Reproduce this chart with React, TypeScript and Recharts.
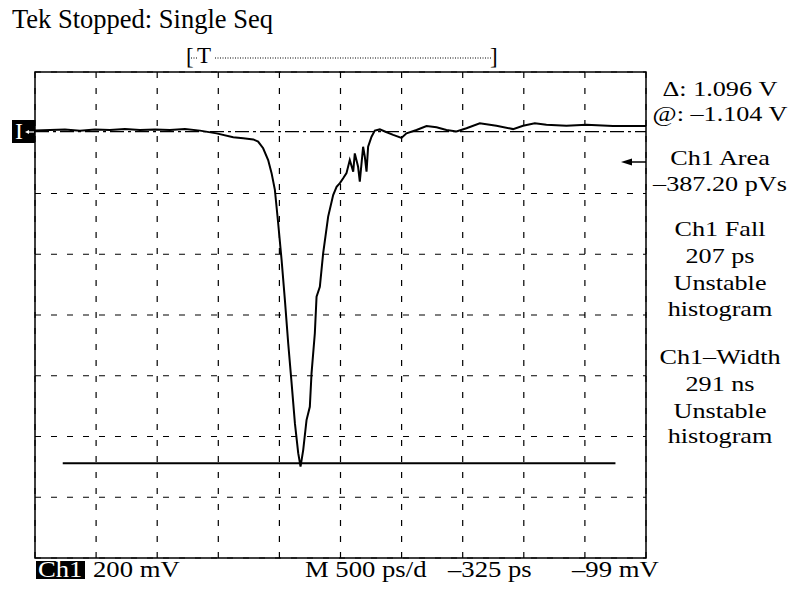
import React from 'react';
import { LineChart, Line, XAxis, YAxis, CartesianGrid, ReferenceLine, ReferenceArea } from 'recharts';

// time in ps (500 ps/div, 10 div), Ch1 in volts (200 mV/div)
const timePs = [
  0, 123, 245, 368, 491, 613, 736, 859, 982, 1104, 1227, 1350, 1486, 1622, 1704, 1786, 1826, 1867, 1908,
  1936, 1963, 1990, 2018, 2045, 2072, 2100, 2127, 2154, 2173, 2195, 2222, 2249, 2263, 2290, 2304, 2331,
  2358, 2399, 2440, 2468, 2495, 2522, 2549, 2576, 2604, 2617, 2644, 2658, 2685, 2699, 2713, 2726, 2754,
  2781, 2822, 2863, 2931, 2999, 3040, 3122, 3204, 3286, 3367, 3449, 3531, 3640, 3776, 3912, 3994, 4090,
  4185, 4349, 4512, 4730, 5000,
];
const ch1Volts = [
  0.007, 0.009, 0.011, 0.007, 0.011, 0.009, 0.012, 0.009, 0.011, 0.009, 0.012, 0.007, -0.002, -0.015,
  -0.018, -0.022, -0.029, -0.051, -0.09, -0.133, -0.188, -0.298, -0.419, -0.551, -0.693, -0.825, -0.957,
  -1.055, -1.099, -1.044, -0.946, -0.902, -0.792, -0.66, -0.54, -0.507, -0.397, -0.276, -0.205, -0.178,
  -0.166, -0.15, -0.133, -0.09, -0.128, -0.068, -0.112, -0.161, -0.046, -0.079, -0.128, -0.046, -0.013,
  0.007, 0.011, 0.004, -0.007, -0.017, -0.002, 0.009, 0.022, 0.018, 0.009, 0.004, 0.015, 0.031, 0.023,
  0.012, 0.023, 0.031, 0.026, 0.023, 0.026, 0.022, 0.022,
];

const xTicks = [500, 1000, 1500, 2000, 2500, 3000, 3500, 4000, 4500];
const yTicks = [-1.2, -1.0, -0.8, -0.6, -0.4, -0.2];

// cursors
const cursorTop = 0.004;
const cursorBottom = -1.088;
const cursorBottomSpan = [227, 4750];

const title = 'Tek Stopped: Single Seq';
const readouts = [
  'Δ: 1.096 V', '@: –1.104 V', 'Ch1 Area', '–387.20 pVs', 'Ch1 Fall', '207 ps', 'Unstable', 'histogram',
  'Ch1–Width', '291 ns', 'Unstable', 'histogram',
];
const readoutY = [96, 121, 165, 191, 236, 263, 290, 316, 364, 391, 418, 443];
const footer = ['200 mV', 'M 500 ps/d', '–325 ps', '–99 mV'];
const footerX = [93, 305, 448, 572];

const data = timePs.map((t, i) => ({ t, v: ch1Volts[i] }));

const W = 791;
const H = 590;

export default function App() {
  return (
    <div style={{ position: 'absolute', left: 0, top: 0, width: W, height: H, background: '#fff' }}>
      <LineChart width={W} height={H} data={data} margin={{ top: 72, right: 145, bottom: 32, left: 35 }}>
        <XAxis type="number" dataKey="t" domain={[0, 5000]} ticks={xTicks} hide />
        <YAxis type="number" domain={[-1.4, 0.2]} ticks={yTicks} hide />
        <CartesianGrid stroke="#000" strokeWidth={1.2} strokeDasharray="6 10" />
        <ReferenceArea x1={0} x2={5000} y1={-1.4} y2={0.2} fill="none" stroke="#000" strokeWidth={1.5} />
        <ReferenceLine y={cursorTop} stroke="#000" strokeWidth={1.2} strokeDasharray="14 4 3 4" />
        <ReferenceLine
          segment={[{ x: cursorBottomSpan[0], y: cursorBottom }, { x: cursorBottomSpan[1], y: cursorBottom }]}
          stroke="#000"
          strokeWidth={1.8}
        />
        <Line
          type="linear"
          dataKey="v"
          stroke="#000"
          strokeWidth={2}
          dot={false}
          isAnimationActive={false}
        />
      </LineChart>
      <svg
        width={W}
        height={H}
        style={{ position: 'absolute', left: 0, top: 0, pointerEvents: 'none' }}
        fontFamily='"Liberation Serif", "Times New Roman", serif'
      >
        <text x={12} y={28} fontSize={26.5}>{title}</text>

        {/* trigger bracket */}
        <text x={186} y={64} fontSize={23}>[</text>
        <line x1={191} x2={197} y1={58} y2={58} stroke="#000" strokeDasharray="1 1.5" />
        <text x={197} y={63} fontSize={23}>T</text>
        <line x1={215} x2={491} y1={58} y2={58} stroke="#000" strokeDasharray="1 1.5" />
        <text x={490} y={64} fontSize={23}>]</text>

        {/* ground marker */}
        <rect x={12} y={120} width={23} height={23} fill="#000" />
        <text x={15} y={139} fill="#fff" fontSize={24}>I</text>
        <line x1={27} x2={34} y1={132} y2={132} stroke="#fff" strokeWidth={1.2} />
        <path d="M25 132 L29 130 L29 134 Z" fill="#fff" />

        {/* area arrow */}
        <line x1={630} x2={646} y1={162} y2={162} stroke="#000" strokeWidth={1.5} />
        <path d="M621 162 L632 158.5 L632 165.5 Z" fill="#000" />

        {readouts.map((s, i) => (
          <text
            key={i}
            transform={`translate(720 ${readoutY[i]}) scale(1.19 1)`}
            textAnchor="middle"
            fontSize={22}
          >
            {s}
          </text>
        ))}

        <rect x={36} y={561} width={49} height={18} fill="#000" />
        <text transform="translate(38 577) scale(1.16 1)" fill="#fff" fontSize={23}>Ch1</text>
        {footer.map((s, i) => (
          <text key={i} transform={`translate(${footerX[i]} 577) scale(1.16 1)`} fontSize={23}>{s}</text>
        ))}
      </svg>
    </div>
  );
}
